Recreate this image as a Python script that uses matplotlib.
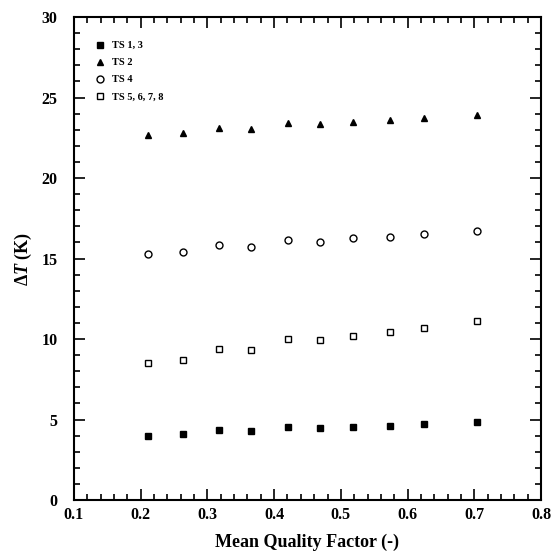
import matplotlib as mpl
mpl.use('Agg')
import matplotlib.pyplot as plt
from matplotlib.ticker import MultipleLocator

plt.rcParams['font.family'] = 'Liberation Serif'
plt.rcParams['font.weight'] = 'bold'
plt.rcParams['mathtext.fontset'] = 'custom'
plt.rcParams['mathtext.rm'] = 'Liberation Serif:bold'
plt.rcParams['mathtext.it'] = 'Liberation Serif:bold:italic'

# mean quality factor
x = [0.211, 0.264, 0.318, 0.366, 0.421, 0.468, 0.518, 0.574, 0.624, 0.704]

ts13 = [3.98, 4.10, 4.35, 4.27, 4.53, 4.45, 4.55, 4.61, 4.72, 4.83]
ts2 = [22.67, 22.78, 23.12, 23.04, 23.42, 23.35, 23.50, 23.58, 23.71, 23.91]
ts4 = [15.28, 15.40, 15.82, 15.71, 16.17, 16.04, 16.27, 16.35, 16.50, 16.73]
ts5678 = [8.53, 8.70, 9.38, 9.30, 10.00, 9.92, 10.20, 10.45, 10.66, 11.12]

labels = ['TS 1, 3', 'TS 2', 'TS 4', 'TS 5, 6, 7, 8']

fig = plt.figure(figsize=(5.53, 5.56), dpi=100)
ax = fig.add_axes([0.1338, 0.1007, 0.8445, 0.8687])

ax.plot(x, ts13, 's', color='black', ms=4, label=labels[0])
ax.plot(x, ts2, '^', color='black', ms=4.5, label=labels[1])
ax.plot(x, ts4, 'o', mfc='white', mec='black', mew=1, ms=5, label=labels[2])
ax.plot(x, ts5678, 's', mfc='white', mec='black', mew=1, ms=5, label=labels[3])

ax.set_xlim(0.1, 0.8)
ax.set_ylim(0, 30)
ax.xaxis.set_major_locator(MultipleLocator(0.1))
ax.xaxis.set_minor_locator(MultipleLocator(0.02))
ax.yaxis.set_major_locator(MultipleLocator(5))
ax.yaxis.set_minor_locator(MultipleLocator(1))
ax.tick_params(which='both', direction='in', top=True, right=True, width=1.2, labelsize=11.5)
ax.tick_params(which='major', length=8)
ax.tick_params(which='minor', length=4)
ax.tick_params(axis='x', pad=5)
ax.tick_params(axis='y', pad=12)
for s in ax.spines.values():
    s.set_linewidth(1.5)

ax.set_xlabel('Mean Quality Factor (-)', fontsize=13, fontweight='bold', labelpad=8)
ax.set_ylabel(r'$\Delta T$ (K)', fontsize=13, fontweight='bold', labelpad=5)

ax.legend(loc='upper left', bbox_to_anchor=(0.018, 0.97), frameon=False,
          prop={'size': 7.5, 'weight': 'bold'}, handletextpad=0.4,
          labelspacing=0.75, handlelength=1.5)

fig.savefig('out.png', dpi=100)
